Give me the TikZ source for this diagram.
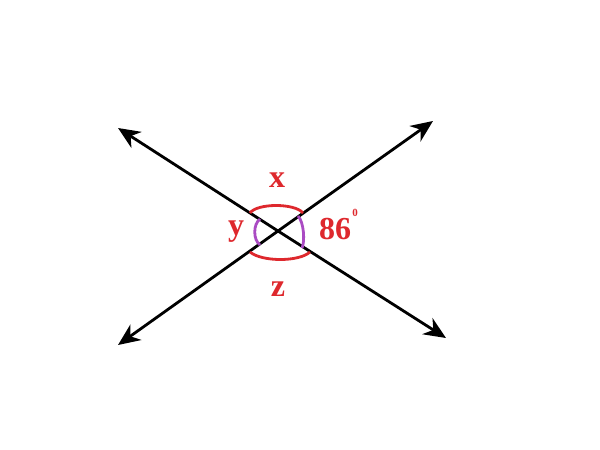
\documentclass[tikz,border=0pt]{standalone}
\usepackage{fontspec}
\setmainfont{Liberation Serif}
\usetikzlibrary{arrows.meta}
\definecolor{angred}{RGB}{222,40,45}
\definecolor{angpurple}{RGB}{170,75,195}
\tikzset{
  ray/.style={line width=2.8pt, draw=black, -{Stealth[length=22pt,width=19pt,inset=7pt]}},
  redarc/.style={draw=angred, line width=2.8pt},
  purparc/.style={draw=angpurple, line width=2.8pt},
  lbl/.style={text=angred, font=\bfseries\fontsize{32}{32}\selectfont, inner sep=0pt},
}
\begin{document}
\begin{tikzpicture}[x=1pt,y=-1pt]
\useasboundingbox (0,0) rectangle (600,450);
\coordinate (O) at (278,231);
\coordinate (NW) at (118,128);
\coordinate (SE) at (446,338);
\coordinate (SW) at (118,345);
\coordinate (NE) at (433,121);
\draw[ray] (O) -- (NW);
\draw[ray] (O) -- (SE);
\draw[ray] (O) -- (SW);
\draw[ray] (O) -- (NE);
\coordinate (a1) at (250,213);
\coordinate (a2) at (303,213);
\coordinate (b1) at (250,252);
\coordinate (b2) at (310,252);
\coordinate (c1) at (260,219);
\coordinate (c2) at (260,245);
\coordinate (d1) at (298,216);
\coordinate (d2) at (302,248);
\draw[redarc] (a1) .. controls (257,203) and (295,203) .. (a2);
\draw[redarc] (b1) .. controls (262,262) and (299,262) .. (b2);
\draw[purparc] (c1) .. controls (253,224) and (253,240) .. (c2);
\draw[purparc] (d1) .. controls (304,222) and (305,242) .. (d2);
\node[lbl] (x) at (277,180) {x};
\node[lbl] (y) at (236,232) {y};
\node[lbl] (z) at (278,289) {z};
\node[lbl] (n) at (335,229) {86};
\node[text=angred, font=\bfseries\fontsize{11}{11}\selectfont, inner sep=0pt] (deg) at (355,213) {0};
\end{tikzpicture}
\end{document}
